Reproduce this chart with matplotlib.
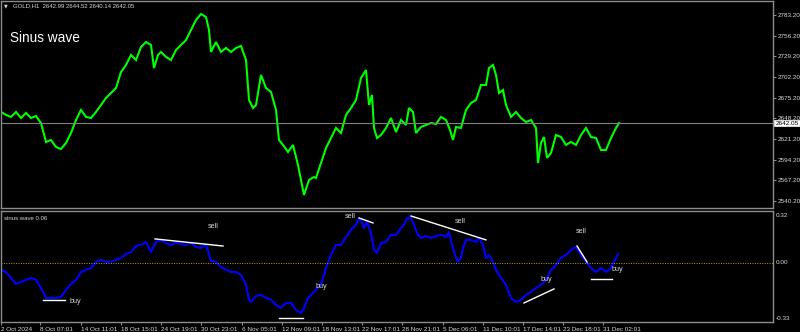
import matplotlib
matplotlib.use("Agg")
import matplotlib.pyplot as plt

# GOLD H1 closes (bar index, price)
price_bar = [0, 10, 20, 30, 40, 50, 60, 70, 80, 90, 100, 110, 120, 130, 140, 150,
             160, 170, 180, 190, 200, 210, 220, 230, 240, 250, 260, 270, 280, 290,
             300, 306, 314, 320, 330, 340, 350, 360, 370, 380, 390, 400, 410, 416,
             420, 430, 440, 450, 460, 470, 480, 490, 496, 504, 510, 520, 530, 540,
             550, 556, 564, 574, 584, 594, 600, 606, 616, 626, 630, 640, 650, 660,
             670, 680, 690, 700, 710, 720, 730, 736, 742, 746, 752, 760, 770, 780,
             790, 800, 810, 816, 824, 830, 840, 850, 860, 870, 880, 890, 898, 904,
             910, 920, 930, 940, 950, 960, 970, 976, 984, 990, 996, 1004, 1010, 1020,
             1030, 1040, 1050, 1060, 1070, 1074, 1080, 1086, 1092, 1100, 1110, 1120,
             1130, 1140, 1150, 1160, 1170, 1180, 1190, 1200, 1210, 1220, 1230, 1236]
price = [2656.5, 2652.6, 2650.0, 2656.5, 2648.6, 2655.2, 2648.6, 2651.2, 2642.1, 2617.3,
         2619.9, 2610.7, 2608.1, 2616.0, 2629.0, 2646.0, 2659.1, 2650.0, 2648.6, 2656.5,
         2665.6, 2674.8, 2681.3, 2687.8, 2708.7, 2717.9, 2731.0, 2724.4, 2741.4, 2747.9,
         2744.0, 2713.9, 2731.0, 2734.9, 2728.3, 2724.4, 2737.5, 2744.0, 2750.5, 2763.6,
         2776.7, 2784.5, 2780.6, 2763.6, 2734.9, 2747.9, 2734.9, 2740.1, 2734.9, 2740.1,
         2742.7, 2724.4, 2672.1, 2661.7, 2665.6, 2704.8, 2687.8, 2682.6, 2659.1, 2619.9,
         2613.4, 2604.2, 2613.4, 2587.2, 2567.6, 2548.0, 2567.6, 2571.5, 2570.2, 2589.8,
         2609.4, 2622.5, 2635.6, 2629.0, 2652.6, 2661.7, 2672.1, 2700.9, 2711.3, 2665.6,
         2678.7, 2635.6, 2622.5, 2626.4, 2635.6, 2648.6, 2630.3, 2646.0, 2639.5, 2661.7,
         2656.5, 2629.0, 2636.9, 2639.5, 2642.1, 2640.8, 2650.0, 2646.0, 2633.0, 2619.9,
         2636.9, 2635.6, 2659.1, 2668.2, 2672.1, 2691.7, 2691.7, 2713.9, 2717.9, 2704.8,
         2681.3, 2685.2, 2665.6, 2650.0, 2656.5, 2648.6, 2643.4, 2646.0, 2635.6, 2589.8,
         2616.0, 2623.8, 2596.4, 2602.9, 2626.4, 2623.8, 2613.4, 2617.3, 2613.4, 2626.4,
         2635.6, 2623.8, 2622.5, 2606.8, 2606.8, 2622.5, 2635.6, 2642.05]

# sinus wave 0.06 indicator
wave_bar = [0, 10, 20, 30, 40, 50, 60, 70, 80, 90, 100, 110, 120, 130, 140, 150, 160,
            170, 180, 190, 200, 210, 220, 230, 240, 250, 260, 270, 280, 290, 300, 310,
            320, 330, 340, 350, 360, 370, 380, 390, 400, 410, 420, 430, 440, 450, 460,
            470, 480, 490, 496, 500, 510, 520, 530, 540, 550, 560, 570, 580, 590, 600,
            606, 614, 620, 630, 640, 650, 660, 670, 680, 690, 700, 710, 714, 720, 726,
            732, 740, 746, 752, 760, 770, 780, 790, 800, 806, 812, 820, 826, 834, 840,
            850, 860, 870, 880, 890, 896, 902, 908, 914, 920, 924, 930, 940, 950, 956,
            964, 970, 976, 984, 990, 996, 1010, 1020, 1030, 1040, 1050, 1060, 1070,
            1080, 1090, 1100, 1110, 1120, 1130, 1140, 1150, 1160, 1170, 1180, 1190,
            1200, 1210, 1220, 1226, 1234]
wave = [-0.043, -0.056, -0.093, -0.130, -0.118, -0.105, -0.093, -0.105, -0.155, -0.217,
        -0.217, -0.217, -0.211, -0.167, -0.130, -0.105, -0.056, -0.043, -0.031, 0.006,
        0.019, 0.006, 0.006, 0.019, 0.031, 0.056, 0.068, 0.105, 0.112, 0.130, 0.068,
        0.130, 0.143, 0.124, 0.112, 0.124, 0.118, 0.112, 0.124, 0.099, 0.093, 0.112,
        0.012, 0.006, -0.025, -0.043, -0.056, -0.056, -0.074, -0.136, -0.229, -0.242,
        -0.205, -0.198, -0.217, -0.229, -0.260, -0.279, -0.248, -0.248, -0.291, -0.310,
        -0.279, -0.217, -0.198, -0.167, -0.136, -0.031, 0.050, 0.112, 0.112, 0.161,
        0.205, 0.236, 0.267, 0.267, 0.217, 0.254, 0.186, 0.081, 0.062, 0.124, 0.130,
        0.174, 0.174, 0.217, 0.236, 0.279, 0.279, 0.236, 0.174, 0.155, 0.167, 0.155,
        0.167, 0.174, 0.161, 0.192, 0.112, 0.050, 0.006, 0.031, 0.093, 0.143, 0.143,
        0.130, 0.155, 0.112, 0.031, 0.050, 0.006, -0.043, -0.074, -0.136, -0.217,
        -0.242, -0.229, -0.198, -0.180, -0.155, -0.136, -0.105, -0.043, -0.012, 0.031,
        0.050, 0.081, 0.099, 0.050, 0.006, -0.031, -0.056, -0.031, -0.056, -0.031,
        0.006, 0.056]

# signal lines drawn on the indicator: (x0, y0, x1, y1, label, label_x, label_y)
signals = [
    (84, -0.229, 128, -0.229, "buy", 148, -0.236),
    (308, 0.149, 444, 0.105, "sell", 424, 0.229),
    (556, -0.341, 604, -0.341, "buy", 640, -0.143),
    (716, 0.279, 744, 0.248, "sell", 698, 0.288),
    (820, 0.291, 970, 0.143, "sell", 918, 0.260),
    (1046, -0.248, 1106, -0.161, "buy", 1090, -0.105),
    (1152, 0.105, 1172, 0.006, "sell", 1160, 0.192),
    (1180, -0.099, 1222, -0.099, "buy", 1232, -0.043),
]

price_ticks = [2783.20, 2756.20, 2729.20, 2702.20, 2675.20, 2648.20, 2621.20, 2594.20, 2567.20, 2540.20]
time_ticks = [0, 78, 160, 240, 320, 400, 482, 562, 642, 722, 802, 884, 964, 1044, 1124, 1204]
time_labels = ["2 Oct 2024", "8 Oct 07:01", "14 Oct 11:01", "18 Oct 15:01", "24 Oct 19:01",
               "30 Oct 23:01", "6 Nov 05:01", "12 Nov 09:01", "18 Nov 13:01", "22 Nov 17:01",
               "28 Nov 21:01", "5 Dec 06:01", "11 Dec 10:01", "17 Dec 14:01", "23 Dec 18:01",
               "31 Dec 02:01"]
last_price = 2642.05

plt.rcParams['font.family'] = ['Liberation Sans', 'DejaVu Sans']
FG = '#d8d8d8'
FRAME = '#8c8c8c'

fig = plt.figure(figsize=(8, 3.32), dpi=100, facecolor='black')
W, H = 800.0, 332.0
ax = fig.add_axes([1 / W, 1 - 208 / H, 772 / W, 207 / H], facecolor='black')
ax2 = fig.add_axes([1 / W, 1 - 322 / H, 772 / W, 111 / H], facecolor='black')

for a in (ax, ax2):
    for s in a.spines.values():
        s.set_color(FRAME)
        s.set_linewidth(1)
    a.set_xlim(0, 1544)

# main window
ax.plot(price_bar, price, color='#00ff00', lw=1.5, solid_joinstyle='miter')
ax.axhline(last_price, color='#808080', lw=0.8)
ax.set_ylim(2531.0, 2801.5)
ax.set_xticks([])
ax.yaxis.tick_right()
ax.set_yticks(price_ticks)
ax.set_yticklabels(['%.2f' % p for p in price_ticks])
ax.tick_params(axis='y', colors=FRAME, labelcolor=FG, labelsize=4.6, length=2, pad=1.5, width=0.8)
ax.text(1.003, last_price, '%.2f' % last_price, transform=ax.get_yaxis_transform(),
        fontsize=4.6, color='black', va='center', ha='left',
        bbox=dict(boxstyle='square,pad=0.15', fc='white', ec='white', lw=0.5))
ax.text(0.004, 0.975, u'\u25bc', transform=ax.transAxes, fontsize=3.5, color=FG,
        va='center', family=['DejaVu Sans'])
ax.text(0.015, 0.975, 'GOLD,H1  2642.99 2644.52 2640.14 2642.05', transform=ax.transAxes,
        fontsize=4.3, color=FG, va='center')
ax.text(0.012, 0.82, 'Sinus wave', transform=ax.transAxes, fontsize=9.8, color='white', va='center')

# indicator window
ax2.plot(wave_bar, wave, color='#0000ff', lw=1.5)
ax2.axhline(0, color='#c8a000', lw=0.7, dashes=(1, 1.5))
for x0, y0, x1, y1, lab, lx, ly in signals:
    ax2.plot([x0, x1], [y0, y1], color='white', lw=1)
    ax2.text(lx, ly, lab, color=FG, fontsize=5.2, ha='center', va='center')
ax2.set_ylim(-0.366, 0.322)
ax2.set_yticks([])
ax2.text(0.004, 0.93, 'sinus wave 0.06', transform=ax2.transAxes, fontsize=4.3, color=FG, va='center')
for val, lab in [(0.295, '0.32'), (0.0, '0.00'), (-0.345, '-0.33')]:
    ax2.text(1.004, val, lab, transform=ax2.get_yaxis_transform(), fontsize=4.6,
             color=FG, va='center', ha='left')

ax2.set_xticks(time_ticks)
ax2.set_xticklabels(time_labels, ha='left')
ax2.tick_params(axis='x', colors=FRAME, labelcolor=FG, labelsize=4.6, length=2.5, pad=1, width=0.8)
for lbl in ax2.get_xticklabels():
    lbl.set_horizontalalignment('left')

fig.savefig('out.png', dpi=100, facecolor='black')
